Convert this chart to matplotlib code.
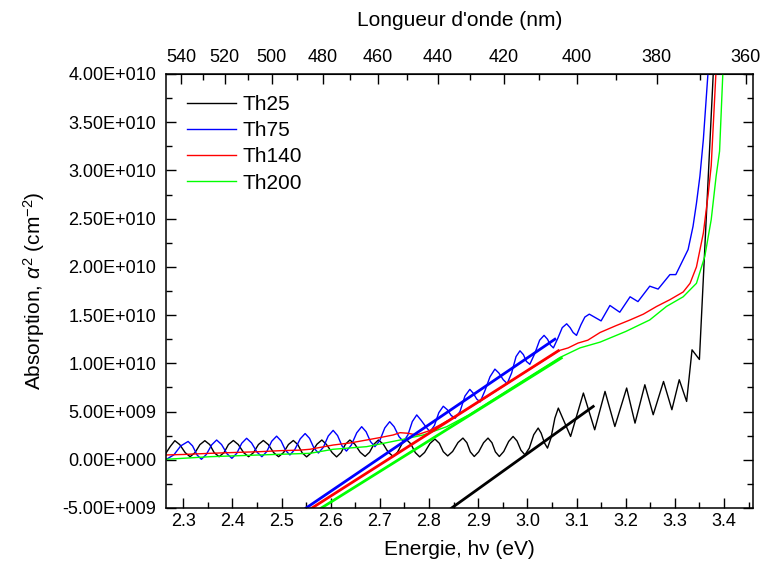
import numpy as np
import matplotlib
matplotlib.use('Agg')
from matplotlib import pyplot as plt
from matplotlib.ticker import FuncFormatter, MultipleLocator, FixedLocator

plt.rcParams['font.family'] = ['Liberation Sans', 'DejaVu Sans']
plt.rcParams['mathtext.fontset'] = 'custom'
plt.rcParams['mathtext.rm'] = 'Liberation Sans'
plt.rcParams['mathtext.it'] = 'Liberation Sans:italic'

# Th25 (energy in eV, alpha^2 in 1e9 cm^-2)
e_th25 = [2.265, 2.274, 2.283, 2.293, 2.304, 2.314, 2.324, 2.334, 2.344, 2.354, 2.363, 2.373,
          2.383, 2.392, 2.402, 2.412, 2.423, 2.433, 2.443, 2.453, 2.463, 2.473, 2.484, 2.494,
          2.504, 2.514, 2.524, 2.533, 2.542, 2.551, 2.561, 2.572, 2.582, 2.591, 2.603, 2.612,
          2.621, 2.630, 2.639, 2.649, 2.660, 2.670, 2.679, 2.688, 2.697, 2.707, 2.717, 2.727,
          2.736, 2.745, 2.754, 2.763, 2.772, 2.781, 2.791, 2.802, 2.812, 2.821, 2.829, 2.838,
          2.848, 2.859, 2.869, 2.877, 2.884, 2.892, 2.901, 2.911, 2.920, 2.928, 2.935, 2.943,
          2.952, 2.962, 2.971, 2.979, 2.987, 2.995, 3.004, 3.013, 3.022, 3.028, 3.035, 3.041,
          3.048, 3.056, 3.063, 3.088, 3.114, 3.137, 3.158, 3.178, 3.202, 3.219, 3.239, 3.256,
          3.277, 3.294, 3.309, 3.324, 3.335, 3.350, 3.380]
a_th25 = [0.70, 1.40, 1.98, 1.57, 0.74, 0.32, 0.74, 1.57, 1.98, 1.57, 0.74, 0.32,
          0.74, 1.58, 2.00, 1.58, 0.74, 0.32, 0.74, 1.58, 2.00, 1.58, 0.74, 0.32,
          0.74, 1.58, 2.00, 1.58, 0.72, 0.30, 0.74, 1.61, 2.05, 1.61, 0.74, 0.30,
          0.74, 1.61, 2.05, 1.62, 0.78, 0.35, 0.78, 1.62, 2.05, 1.62, 0.78, 0.35,
          0.79, 1.66, 2.10, 1.65, 0.75, 0.30, 0.76, 1.69, 2.15, 1.71, 0.84, 0.40,
          0.86, 1.79, 2.25, 1.77, 0.82, 0.34, 0.82, 1.77, 2.25, 1.77, 0.82, 0.34,
          0.86, 1.90, 2.42, 1.95, 0.99, 0.52, 1.21, 2.60, 3.29, 2.77, 1.73, 1.21,
          2.25, 4.32, 5.36, 2.42, 6.92, 3.11, 7.09, 3.45, 7.44, 3.80, 7.78, 4.67,
          8.12, 5.19, 8.30, 6.05, 11.4, 10.4, 42.0]

# Th75
e_th75 = [2.266, 2.281, 2.295, 2.310, 2.319, 2.328, 2.337, 2.347, 2.358, 2.368, 2.378, 2.389,
          2.399, 2.409, 2.419, 2.429, 2.439, 2.450, 2.460, 2.470, 2.480, 2.490, 2.499, 2.508,
          2.517, 2.527, 2.538, 2.548, 2.557, 2.566, 2.575, 2.585, 2.595, 2.605, 2.614, 2.623,
          2.632, 2.642, 2.653, 2.663, 2.672, 2.681, 2.690, 2.700, 2.710, 2.720, 2.729, 2.739,
          2.748, 2.757, 2.766, 2.775, 2.784, 2.793, 2.802, 2.811, 2.820, 2.829, 2.837, 2.845,
          2.853, 2.863, 2.873, 2.883, 2.890, 2.897, 2.904, 2.914, 2.924, 2.934, 2.942, 2.951,
          2.959, 2.968, 2.977, 2.985, 2.992, 2.998, 3.005, 3.015, 3.025, 3.034, 3.041, 3.047,
          3.053, 3.062, 3.071, 3.080, 3.087, 3.093, 3.100, 3.109, 3.117, 3.126, 3.150, 3.168,
          3.188, 3.209, 3.225, 3.249, 3.266, 3.290, 3.302, 3.327, 3.337, 3.344, 3.351, 3.358,
          3.368]
a_th75 = [0.05, 0.51, 1.44, 1.90, 1.44, 0.51, 0.05, 0.55, 1.55, 2.05, 1.58, 0.63,
          0.15, 0.67, 1.71, 2.23, 1.75, 0.80, 0.32, 0.85, 1.92, 2.45, 1.96, 0.99,
          0.50, 1.06, 2.17, 2.72, 2.22, 1.21, 0.70, 1.29, 2.46, 3.05, 2.51, 1.44,
          0.90, 1.53, 2.80, 3.43, 2.91, 1.88, 1.36, 2.01, 3.30, 3.95, 3.43, 2.40,
          1.88, 2.57, 3.96, 4.65, 4.09, 3.46, 2.90, 3.56, 4.89, 5.55, 5.20, 4.60,
          4.30, 5.00, 6.60, 7.30, 6.90, 6.30, 6.00, 7.20, 8.60, 9.40, 9.00, 8.30,
          7.90, 9.00, 10.7, 11.3, 10.9, 10.2, 9.90, 11.0, 12.4, 12.9, 12.5, 11.9,
          11.6, 12.6, 13.7, 14.1, 13.7, 13.2, 12.9, 14.0, 14.8, 15.1, 14.4, 16.0,
          15.3, 16.9, 16.4, 18.0, 17.7, 19.2, 19.2, 21.8, 24.2, 26.6, 29.4, 33.2,
          40.5]

# Th140
e_th140 = [2.265, 2.300, 2.355, 2.400, 2.456, 2.500, 2.537, 2.558, 2.605, 2.640, 2.673, 2.700,
           2.727, 2.741, 2.757, 2.775, 2.800, 2.822, 2.860, 2.920, 2.980, 3.030, 3.063, 3.083,
           3.103, 3.123, 3.148, 3.180, 3.209, 3.236, 3.263, 3.290, 3.317, 3.331, 3.344, 3.358,
           3.368, 3.374, 3.384]
a_th140 = [0.5, 0.55, 0.67, 0.75, 0.84, 0.95, 1.0, 1.09, 1.53, 1.75, 2.05, 2.3,
           2.57, 2.81, 2.75, 2.57, 3.0, 3.6, 4.7, 6.6, 8.6, 10.2, 11.3, 11.6,
           12.1, 12.4, 13.2, 13.9, 14.5, 15.1, 15.9, 16.6, 17.4, 18.3, 20.0, 23.5,
           27.6, 30.5, 40.5]

# Th200
e_th200 = [2.265, 2.355, 2.456, 2.558, 2.605, 2.673, 2.741, 2.788, 2.836, 2.880, 2.940, 3.000,
           3.066, 3.107, 3.148, 3.200, 3.249, 3.283, 3.317, 3.344, 3.361, 3.374, 3.384, 3.391,
           3.398]
a_th200 = [0.05, 0.32, 0.5, 0.67, 1.09, 1.36, 2.05, 2.57, 3.43, 4.63, 6.56, 8.49,
           10.6, 11.6, 12.2, 13.3, 14.5, 15.9, 16.9, 18.3, 21.1, 24.9, 29.4, 32.0,
           40.5]

# linear fits (start, end) for the band gap extrapolation
fit_e_th25 = [2.846, 3.134]
fit_a_th25 = [-5.0, 5.53]
fit_e_th75 = [2.550, 3.056]
fit_a_th75 = [-5.0, 12.5]
fit_e_th140 = [2.562, 3.063]
fit_a_th140 = [-5.0, 11.3]
fit_e_th200 = [2.581, 3.069]
fit_a_th200 = [-5.0, 10.55]

labels = ['Th25', 'Th75', 'Th140', 'Th200']
colors = ['black', '#0000ff', '#ff0000', '#00ff00']
wl_ticks = [540, 520, 500, 480, 460, 440, 420, 400, 380, 360]
wl_minor = list(range(370, 550, 10))

fig = plt.figure(figsize=(7.63, 5.74), dpi=100)
ax = fig.add_axes([166 / 763, 1 - 508 / 574, (753 - 166) / 763, (508 - 74) / 574])

curves = [(e_th25, a_th25), (e_th75, a_th75), (e_th140, a_th140), (e_th200, a_th200)]
fits = [(fit_e_th25, fit_a_th25), (fit_e_th75, fit_a_th75),
        (fit_e_th140, fit_a_th140), (fit_e_th200, fit_a_th200)]

for (e, a), lab, c in zip(curves, labels, colors):
    ax.plot(e, np.array(a) * 1e9, color=c, lw=1.0, label=lab)
for (e, a), c in zip(fits, colors):
    ax.plot(e, np.array(a) * 1e9, color=c, lw=2.0)

ax.set_xlim(2.265, 3.459)
ax.set_ylim(-5e9, 4e10)
ax.xaxis.set_major_locator(MultipleLocator(0.1))
ax.xaxis.set_minor_locator(MultipleLocator(0.05))
ax.yaxis.set_major_locator(MultipleLocator(5e9))
ax.yaxis.set_minor_locator(MultipleLocator(2.5e9))


def sci_fmt(v, pos):
    if abs(v) < 1:
        return '0.00E+000'
    exp = int(np.floor(np.log10(abs(v))))
    return f'{v / 10 ** exp:.2f}E{exp:+04d}'


ax.yaxis.set_major_formatter(FuncFormatter(sci_fmt))
ax.xaxis.set_major_formatter(FuncFormatter(lambda v, p: f'{v:.1f}'))

ax.tick_params(which='both', direction='in', top=False, right=True, labelsize=13, width=1.0)
ax.tick_params(which='major', length=7)
ax.tick_params(which='minor', length=4)
ax.tick_params(axis='y', pad=7)
for s in ax.spines.values():
    s.set_linewidth(1.1)

ax.set_xlabel('Energie, h\u03bd (eV)', fontsize=15, labelpad=7)
ax.set_ylabel(r'Absorption, $\alpha^2$ (cm$^{-2}$)', fontsize=15, labelpad=11)

# wavelength on top
secax = ax.secondary_xaxis('top', functions=(lambda e: 1240 / np.where(e == 0, 1e-9, e),
                                             lambda w: 1240 / np.where(w == 0, 1e-9, w)))
secax.xaxis.set_major_locator(FixedLocator(wl_ticks))
secax.xaxis.set_minor_locator(FixedLocator(wl_minor))
secax.xaxis.set_major_formatter(FuncFormatter(lambda v, p: f'{v:.0f}'))
secax.tick_params(which='both', direction='in', labelsize=13, width=1.0, pad=6)
secax.tick_params(which='major', length=7)
secax.tick_params(which='minor', length=4)
secax.set_xlabel("Longueur d'onde (nm)", fontsize=15, labelpad=16)

ax.legend(loc='upper left', frameon=False, fontsize=15, handlelength=2.35,
          handletextpad=0.3, labelspacing=0.35, borderaxespad=0.6)

fig.savefig('out.png', dpi=100)
